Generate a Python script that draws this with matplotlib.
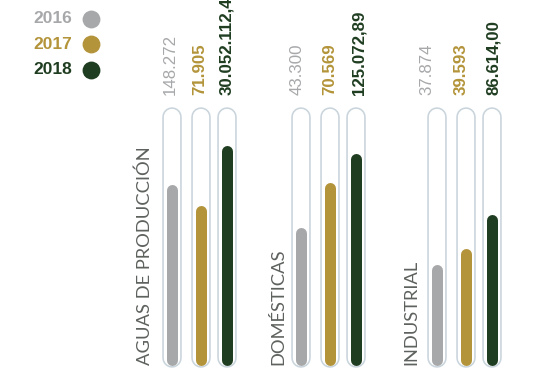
import matplotlib.pyplot as plt

# datos
categorias = ['AGUAS DE PRODUCCIÓN', 'DOMÉSTICAS', 'INDUSTRIAL']
anios = ['2016', '2017', '2018']
etiquetas = [
    ['148.272', '71.905', '30.052.112,4'],
    ['43.300', '70.569', '125.072,89'],
    ['37.874', '39.593', '86.614,00'],
]
# nivel de relleno de cada barra (fraccion del tubo)
niveles = [
    [0.706, 0.624, 0.859],
    [0.541, 0.714, 0.831],
    [0.396, 0.455, 0.592],
]

colores = ['#a7a8aa', '#b3943a', '#1f3d20']
pesos = ['normal', 'bold', 'bold']
borde = '#c9d4dc'
gris_texto = '#5e625e'

# layout (pixeles)
W, H = 534, 368
base_px, alto_px = 365, 255
grupo_x = [171.5, 300.5, 436.5]
desp_x = [0, 29, 55]
etiq_dx = [[-1.5, -0.5, 0.5], [-3.5, 0.5, 3.5], [-9.5, -4, 2]]
cat_x = [144.5, 278, 411]
ancho_tubo, ancho_borde, ancho_barra = 19.5, 1.6, 11.0


def lev(py):
    return (base_px - py) / alto_px


def pt(px):
    return px * 72 / 100


fig = plt.figure(figsize=(W / 100, H / 100), dpi=100)
ax = fig.add_axes([0, (H - base_px) / H, 1, alto_px / H])
ax.set_xlim(0, W)
ax.set_ylim(0, 1)
ax.axis('off')

for g in range(len(categorias)):
    for i in range(len(anios)):
        x = grupo_x[g] + desp_x[i]
        # tubo
        r = ancho_tubo / 2 / alto_px
        y0, y1 = lev(367.5) + r, lev(107) - r
        ax.plot([x, x], [y0, y1], color=borde, lw=pt(ancho_tubo),
                solid_capstyle='round', clip_on=False)
        ax.plot([x, x], [y0, y1], color='white', lw=pt(ancho_tubo - 2 * ancho_borde),
                solid_capstyle='round', clip_on=False)
        # relleno
        rb = ancho_barra / 2 / alto_px
        ax.plot([x, x], [rb, niveles[g][i] - rb], color=colores[i], lw=pt(ancho_barra),
                solid_capstyle='round', clip_on=False)
        # valor
        ax.text(x + etiq_dx[g][i], lev(95), etiquetas[g][i], rotation=90,
                ha='center', va='bottom', color=colores[i], fontsize=12.2,
                fontweight=pesos[i], family=['Liberation Sans', 'DejaVu Sans'],
                clip_on=False)
    ax.text(cat_x[g], lev(365), categorias[g], rotation=90, ha='center', va='bottom',
            color=gris_texto, fontsize=13.2, fontweight='normal',
            family=['Lato', 'DejaVu Sans'], clip_on=False)

# leyenda
ax2 = fig.add_axes([0, 0, 1, 1], facecolor='none')
ax2.set_xlim(0, W)
ax2.set_ylim(H, 0)
ax2.axis('off')
for i, a in enumerate(anios):
    y = 18.5 + i * 25.7
    ax2.text(72, y, a, ha='right', va='center', color=colores[i], fontsize=12.5,
             fontweight='bold', family=['Liberation Sans', 'DejaVu Sans'])
    ax2.scatter([90.5], [y], s=165, color=colores[i], linewidths=0)

fig.savefig('out.png', dpi=100)
